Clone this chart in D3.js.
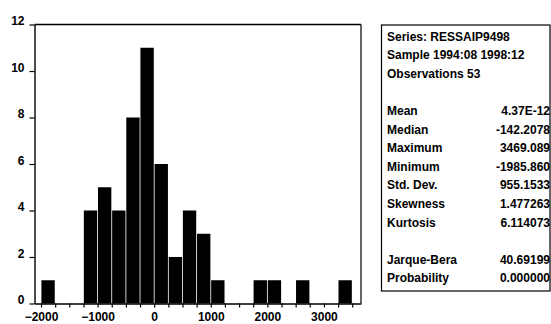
<!DOCTYPE html>
<html>
<head>
<meta charset="utf-8">
<script src="https://cdn.jsdelivr.net/npm/d3@7"></script>
<style>
  html, body { margin: 0; padding: 0; background: #fff; }
  svg { display: block; }
  text { font-family: "Liberation Sans", Arial, sans-serif; fill: #000; }
</style>
</head>
<body>
<svg id="chart" width="551" height="324"></svg>
<script>
// Histogram of residuals: bins of width 250
const binStart = [-2000, -1750, -1500, -1250, -1000, -750, -500, -250, 0, 250, 500,
                  750, 1000, 1250, 1500, 1750, 2000, 2250, 2500, 2750, 3000, 3250];
const binCount = [1, 0, 0, 4, 5, 4, 8, 11, 6, 2, 4, 3, 1, 0, 0, 1, 1, 0, 1, 0, 0, 1];
const binWidth = 250;

const xTickLabels = [-2000, -1000, 0, 1000, 2000, 3000];
const yTickLabels = [0, 2, 4, 6, 8, 10, 12];

// Descriptive statistics panel
const headerLines = ["Series: RESSAIP9498", "Sample 1994:08 1998:12", "Observations 53"];
const statNames  = ["Mean", "Median", "Maximum", "Minimum", "Std. Dev.", "Skewness", "Kurtosis"];
const statValues = ["4.37E-12", "-142.2078", "3469.089", "-1985.860", "955.1533", "1.477263", "6.114073"];
const testNames  = ["Jarque-Bera", "Probability"];
const testValues = ["40.69199", "0.000000"];

const svg = d3.select("#chart");

const plot = { left: 34.5, right: 361, top: 24.5, bottom: 303.5 };

const x = d3.scaleLinear().domain([-2115, 3655]).range([plot.left, plot.right]);
const y = d3.scaleLinear().domain([0, 12]).range([plot.bottom, plot.top]);

// Bars
const bins = binStart.map((s, i) => ({ x0: s, x1: s + binWidth, n: binCount[i] }))
  .filter(d => d.n > 0);

svg.append("g").selectAll("rect").data(bins).join("rect")
  .attr("x", d => x(d.x0) + 0.4)
  .attr("width", d => x(d.x1) - x(d.x0) - 0.8)
  .attr("y", d => y(d.n))
  .attr("height", d => y(0) - y(d.n))
  .attr("fill", "#000");

// Frame: top and right edges
svg.append("line")
  .attr("x1", plot.left).attr("x2", plot.right)
  .attr("y1", plot.top).attr("y2", plot.top)
  .attr("stroke", "#000").attr("stroke-width", 1.4);
svg.append("line")
  .attr("x1", plot.right).attr("x2", plot.right)
  .attr("y1", plot.top).attr("y2", plot.bottom)
  .attr("stroke", "#000").attr("stroke-width", 1.2);

// Y axis
const yAxis = svg.append("g")
  .attr("transform", `translate(${plot.left},0)`)
  .call(d3.axisLeft(y).tickValues(yTickLabels).tickSize(5).tickSizeOuter(0).tickPadding(5));
yAxis.selectAll("text")
  .attr("dy", 0)
  .style("font-size", "12px").style("font-weight", "bold");

// X axis: minor ticks every bin edge, labels every 1000
const xTickMarks = binStart.concat([binStart[binStart.length - 1] + binWidth]);
const xAxis = svg.append("g")
  .attr("transform", `translate(0,${plot.bottom})`)
  .call(d3.axisBottom(x).tickValues(xTickMarks).tickSize(4).tickSizeOuter(0)
    .tickFormat(d => xTickLabels.includes(d) ? d3.format("d")(d) : ""));
xAxis.selectAll("text")
  .attr("y", 17).attr("dy", 0)
  .style("font-size", "12px").style("font-weight", "bold");

[yAxis, xAxis].forEach(g => {
  g.select(".domain").attr("stroke-width", 1.4);
  g.selectAll(".tick line").attr("stroke-width", 1.2);
  g.attr("font-family", null).attr("font-size", null);
});

// Statistics box
const box = { left: 381.5, right: 550, top: 25, bottom: 291 };
svg.append("defs").append("clipPath").attr("id", "boxClip")
  .append("rect").attr("x", box.left).attr("y", box.top)
  .attr("width", box.right - box.left).attr("height", box.bottom - box.top);

svg.append("rect")
  .attr("x", box.left).attr("y", box.top)
  .attr("width", box.right - box.left).attr("height", box.bottom - box.top)
  .attr("fill", "none").attr("stroke", "#000").attr("stroke-width", 1.2);

const rowStep = 18.6;
const firstRow = 40.5;
const textX = 387;
const valueX = 550;

const panel = svg.append("g")
  .style("font-size", "12px").style("font-weight", "bold");

headerLines.forEach((t, i) => {
  panel.append("text").attr("x", textX).attr("y", firstRow + i * rowStep).text(t);
});
statNames.forEach((t, i) => {
  const yy = firstRow + (4 + i) * rowStep;
  panel.append("text").attr("x", textX).attr("y", yy).text(t);
  panel.append("text").attr("x", valueX).attr("y", yy).attr("text-anchor", "end").text(statValues[i]);
});
testNames.forEach((t, i) => {
  const yy = firstRow + (12 + i) * rowStep;
  panel.append("text").attr("x", textX).attr("y", yy).text(t);
  panel.append("text").attr("x", valueX).attr("y", yy).attr("text-anchor", "end").text(testValues[i]);
});
</script>
</body>
</html>
